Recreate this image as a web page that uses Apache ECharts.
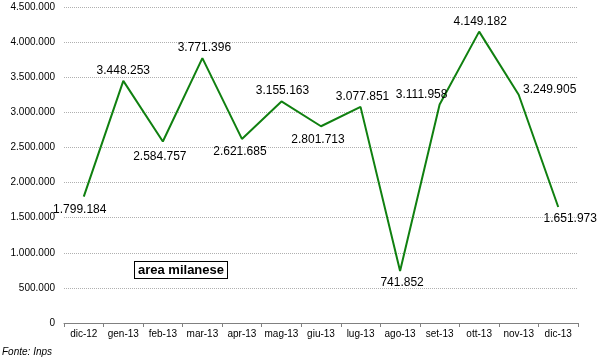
<!DOCTYPE html>
<html>
<head>
<meta charset="utf-8">
<script src="https://cdn.jsdelivr.net/npm/echarts@6/dist/echarts.min.js"></script>
<style>
html,body{margin:0;padding:0;background:#fff;}
#chart{width:600px;height:360px;}
</style>
</head>
<body>
<div id="chart"></div>
<script>
const categories = ['dic-12','gen-13','feb-13','mar-13','apr-13','mag-13','giu-13','lug-13','ago-13','set-13','ott-13','nov-13','dic-13'];
const values = [1799184,3448253,2584757,3771396,2621685,3155163,2801713,3077851,741852,3111958,4149182,3249905,1651973];
const labelPlacement = [
  {pos:'bottom', off:[-4,3]},
  {pos:'top', off:[0,0]},
  {pos:'bottom', off:[-3,5]},
  {pos:'top', off:[2,0]},
  {pos:'bottom', off:[-2,3]},
  {pos:'top', off:[1,-1]},
  {pos:'bottom', off:[-3,3]},
  {pos:'top', off:[2,0]},
  {pos:'bottom', off:[2,2]},
  {pos:'top', off:[-18,0]},
  {pos:'top', off:[1,0]},
  {pos:'top', off:[31,5]},
  {pos:'bottom', off:[12,2]}
];
const FONT = '"Liberation Sans", Arial, sans-serif';
function fmt(v){ return String(v).replace(/\B(?=(\d{3})+(?!\d))/g,'.'); }

const chart = echarts.init(document.getElementById('chart'), null, {renderer:'canvas'});
chart.setOption({
  animation:false,
  backgroundColor:'#fff',
  textStyle:{fontFamily:FONT},
  grid:{left:64, right:22, top:7, bottom:37, containLabel:false},
  xAxis:{
    type:'category',
    data:categories,
    boundaryGap:true,
    axisLine:{show:true, lineStyle:{color:'#808080', width:1}},
    axisTick:{show:true, length:4, lineStyle:{color:'#808080'}},
    axisLabel:{color:'#000', fontSize:10, fontFamily:FONT, margin:6, interval:0},
    splitLine:{show:false}
  },
  yAxis:{
    type:'value',
    min:0, max:4500000, interval:500000,
    axisLine:{show:false},
    axisTick:{show:false},
    axisLabel:{color:'#000', fontSize:10, fontFamily:FONT, margin:9, formatter:v=>fmt(v)},
    splitLine:{show:true, lineStyle:{color:'#b0b0b0', type:[1,1], width:1}}
  },
  title:{
    text:'Fonte: Inps',
    left:2, top:347,
    padding:0,
    textStyle:{fontSize:10, fontStyle:'italic', fontWeight:'normal', color:'#000', fontFamily:FONT}
  },
  graphic:[{
    type:'text',
    left:134, top:261,
    style:{
      text:'area milanese',
      font:'bold 13px ' + FONT,
      fill:'#000',
      backgroundColor:'#fff',
      borderColor:'#000',
      borderWidth:1,
      padding:[2,3,1,3]
    }
  }],
  series:[{
    type:'line',
    data:values.map((v,i)=>({
      value:v,
      label:{position:labelPlacement[i].pos, offset:labelPlacement[i].off}
    })),
    showSymbol:true,
    symbol:'circle',
    symbolSize:0,
    lineStyle:{color:'#108010', width:2},
    itemStyle:{color:'#108010'},
    label:{show:true, color:'#000', fontSize:12, fontFamily:FONT, distance:4, formatter:p=>fmt(p.value)}
  }]
});
</script>
</body>
</html>
